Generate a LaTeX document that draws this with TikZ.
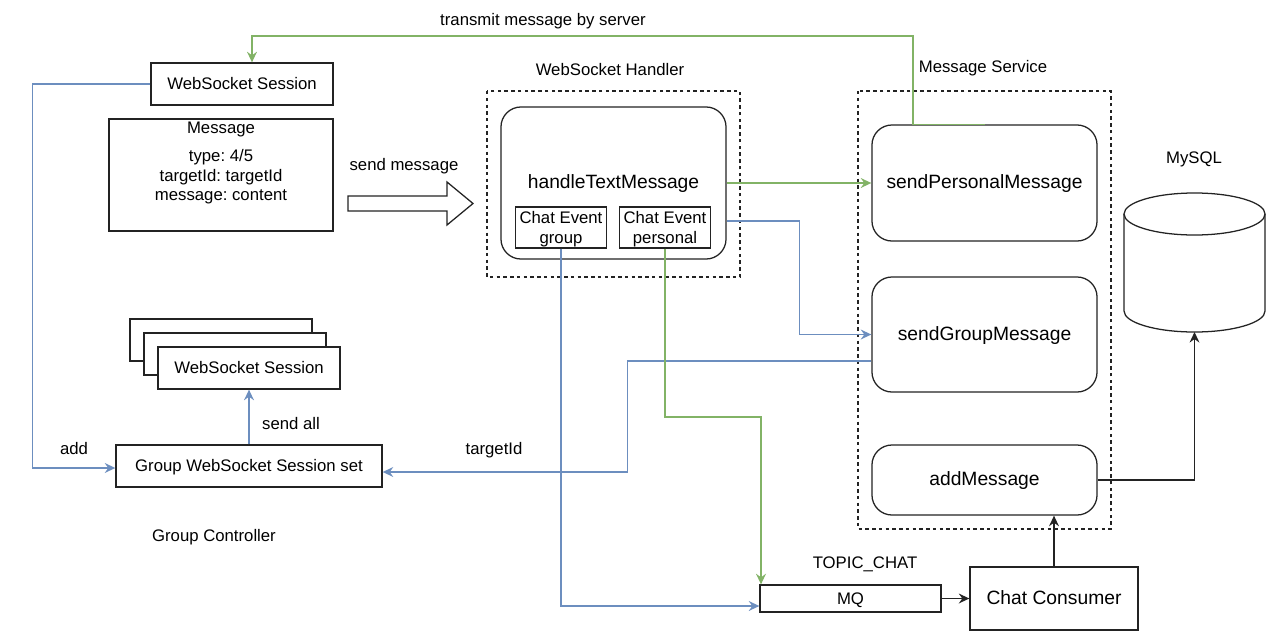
\documentclass[tikz,border=0pt]{standalone}
\usepackage{fontspec}
\setmainfont{Liberation Sans}
\usepackage{tikz}
\usetikzlibrary{arrows.meta, calc}
\usepackage{xcolor}
\definecolor{linkblue}{RGB}{108, 142, 191}
\definecolor{linkgreen}{RGB}{130, 179, 102}
\definecolor{boxline}{RGB}{35, 35, 35}
\frenchspacing

\begin{document}
\begin{tikzpicture}[x=0.025cm, y=-0.025cm, >={Stealth[length=7.5pt, width=7pt, inset=2.5pt]},
  txt/.style={font=\fontsize{11.9}{14}\selectfont, inner sep=0pt, text height=1em, text depth=0.2em},
  bigtxt/.style={font=\fontsize{13.7}{16}\selectfont, inner sep=0pt, text height=1em, text depth=0.2em},
  lines/.style={font=\fontsize{11.9}{14}\selectfont, inner sep=0pt, align=center, text depth=0pt},
  box/.style={draw=boxline, line width=0.9pt, fill=white, inner sep=0pt},
  method/.style={box, rounded corners=0.5cm, minimum width=5.625cm, bigtxt},
  group/.style={draw=boxline, line width=0.8pt, dash pattern=on 2.4pt off 2.4pt},
  bluelink/.style={draw=linkblue, line width=1.1pt, ->},
  greenlink/.style={draw=linkgreen, line width=1.1pt, ->},
  blacklink/.style={draw=boxline, line width=1pt, ->}]

  \useasboundingbox (0,0) rectangle (1276,638);

  % Client side: session and message
  \node[box, txt, minimum width=4.55cm, minimum height=1.05cm] (ws) at (242,84) {WebSocket Session};
  \node[box, minimum width=5.6cm, minimum height=2.8cm] (msg) at (221,175) {};
  \node[txt] (msgtitle) at (221,128) {Message};
  \node[lines] (msgfields) at (221,175) {type: 4/5\\targetId: targetId\\message: content};

  % send message arrow
  \draw[boxline, line width=0.9pt] (348,196) -- (447,196) -- (447,182) -- (473,203.5)
    -- (447,225) -- (447,211) -- (348,211) -- cycle;
  \node[txt] (sendlbl) at (404,165) {send message};

  % WebSocket Handler
  \node[txt] (handlerlbl) at (610,70) {WebSocket Handler};
  \draw[group] (487,91) rectangle (740,277);
  \node[box, rounded corners=0.5cm, minimum width=5.625cm, minimum height=3.8cm] (htm) at (613.5,183) {};
  \node[bigtxt] (htmlbl) at (613.5,183) {handleTextMessage};
  \node[box, lines, minimum width=2.275cm, minimum height=1.025cm] (ceg) at (561,227.5) {Chat Event\\group};
  \node[box, lines, minimum width=2.275cm, minimum height=1.025cm] (cep) at (665,227.5) {Chat Event\\personal};

  % Message Service
  \node[txt] (servicelbl) at (983,67) {Message Service};
  \draw[group] (858,91) rectangle (1111,529);
  \node[method, minimum height=2.9cm] (spm) at (984.5,183) {sendPersonalMessage};
  \node[method, minimum height=2.875cm] (sgm) at (984.5,334.5) {sendGroupMessage};
  \node[method, minimum height=1.75cm] (addm) at (984.5,480) {addMessage};

  % MySQL
  \node[txt] (dblbl) at (1194,158) {MySQL};
  \draw[boxline, line width=0.9pt, fill=white] (1124,214) -- (1124,311)
    arc[start angle=180, end angle=360, x radius=1.7625cm, y radius=0.525cm] -- (1265,214);
  \draw[boxline, line width=0.9pt] (1194.5,214) ellipse (1.7625cm and 0.525cm);
  \coordinate (db) at (1194.5,332);

  % MQ and consumer
  \node[txt] (topiclbl) at (865,563) {TOPIC\_CHAT};
  \node[box, txt, minimum width=4.525cm, minimum height=0.675cm] (mq) at (850.5,598.5) {MQ};
  \node[box, bigtxt, minimum width=4.2cm, minimum height=1.575cm] (cc) at (1054,598.5) {Chat Consumer};

  % Group Controller
  \node[box, minimum width=4.55cm, minimum height=1.05cm] (ses1) at (221,340) {};
  \node[box, minimum width=4.55cm, minimum height=1.05cm] (ses2) at (235,354) {};
  \node[box, txt, minimum width=4.55cm, minimum height=1.05cm] (ses3) at (249,368) {WebSocket Session};
  \node[box, txt, minimum width=6.65cm, minimum height=1.05cm] (gset) at (249,466) {Group WebSocket Session set};
  \node[txt] (ctrllbl) at (214,536) {Group Controller};

  % connectors
  \coordinate (topturn) at (913,36);
  \draw[greenlink] (spm.north) -- (spm.north -| topturn) -- (topturn) -| ($(ws.north)+(10,0)$);
  \node[txt] (transmitlbl) at (543,20) {transmit message by server};

  \draw[greenlink] (htm.east) -- (spm.west);
  \draw[bluelink] ($(htm.east)+(0,38)$) -| ($(sgm.west)+(-72,0)$) -- (sgm.west);

  \draw[bluelink] ($(sgm.west)+(0,26.5)$) -- ++(-244,0) |- ($(gset.east)+(0,6)$);
  \node[txt] (targetlbl) at (494,449) {targetId};

  \draw[bluelink] (ceg.south) |- ($(mq.west)+(0,7.5)$);
  \coordinate (pturn) at (761,417);
  \draw[greenlink] (cep.south) |- (pturn) -- (pturn |- mq.north);

  \draw[bluelink] (ws.west) -- ++(-118,0) |- ($(gset.west)+(0,2)$);
  \node[txt] (addlbl) at (74,449) {add};
  \draw[bluelink] (gset.north) -- (ses3.south);
  \node[txt] (sendalllbl) at (291,424) {send all};

  \draw[blacklink] (mq.east) -- (cc.west);
  \draw[blacklink] (cc.north) -- (cc.north |- addm.south);
  \draw[blacklink] (addm.east) -| (db);

\end{tikzpicture}
\end{document}
